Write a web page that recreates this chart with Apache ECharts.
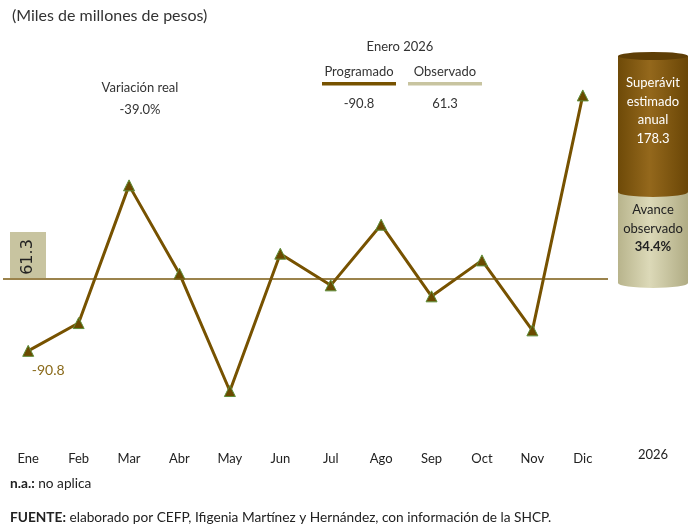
<!DOCTYPE html>
<html>
<head>
<meta charset="utf-8">
<script src="https://cdn.jsdelivr.net/npm/echarts@6/dist/echarts.min.js"></script>
<style>html,body{margin:0;padding:0;background:#fff}#c{width:690px;height:529px}</style>
</head>
<body>
<div id="c"></div>
<script>
const months = ['Ene','Feb','Mar','Abr','May','Jun','Jul','Ago','Sep','Oct','Nov','Dic'];
const programado = [-90.8, -31.9, 259.8, 72.7, -175.9, 115.1, 48.0, 176.5, 24.7, 100.9, -47.4, 450.4];
const observadoEne = 61.3;
const programadoEne = -90.8;
const variacionReal = '-39.0%';
const superavitAnual = 178.3;
const avanceObservado = '34.4%';
const yearLabel = '2026';

const FONT = 'Lato';
const BROWN = '#775200';
const BEIGE = '#c8c4a0';

const chart = echarts.init(document.getElementById('c'), null, {renderer:'canvas'});

const seriesData = programado.map((v,i) => i === 0 ? {
  value: v,
  label: {show:true, position:'bottom', offset:[20,2], formatter: String(v), color:'#8a6a1a', fontSize:14, fontFamily:FONT}
} : v);

const cx = 653, cw = 70, rx = cw/2;
const topY = 56, midY = 192, botY = 283;

const lightGrad = () => new echarts.graphic.LinearGradient(0,0,1,0,[{offset:0,color:'#b8b48c'},{offset:0.45,color:'#dcd9b8'},{offset:1,color:'#b0ac84'}]);
const darkGrad = () => new echarts.graphic.LinearGradient(0,0,1,0,[{offset:0,color:'#6e4a08'},{offset:0.45,color:'#94681c'},{offset:1,color:'#6a4606'}]);

chart.setOption({
  animation:false,
  grid:{left:3, width:605, top:72, height:354},
  xAxis:{
    type:'category', data:months, boundaryGap:true,
    axisLine:{show:false}, axisTick:{show:false},
    axisLabel:{margin:26, color:'#222', fontSize:13, fontFamily:FONT}
  },
  yAxis:{type:'value', min:-250, max:500, show:false, splitLine:{show:false}},
  series:[{
    type:'line', data:seriesData,
    lineStyle:{color:BROWN, width:3},
    itemStyle:{color:'#6b4a00', borderColor:'#5f8f3a', borderWidth:1},
    symbol:'triangle', symbolSize:11,
    markLine:{
      silent:true, symbol:'none',
      lineStyle:{color:'#7a5a10', width:1.5, type:'solid'},
      label:{show:false},
      data:[{yAxis:observadoEne}]
    },
    z:3
  }],
  graphic:[
    {type:'text', left:12, top:8, style:{text:'(Miles de millones de pesos)', fontSize:16, fontFamily:FONT, fill:'#333'}},
    {type:'text', x:140, y:88, style:{text:'Variación real', fontSize:13, fontFamily:FONT, fill:'#333', align:'center', verticalAlign:'middle'}},
    {type:'text', x:140, y:110, style:{text:variacionReal, fontSize:13, fontFamily:FONT, fill:'#333', align:'center', verticalAlign:'middle'}},
    {type:'text', x:400, y:47, style:{text:'Enero ' + yearLabel, fontSize:13, fontFamily:FONT, fill:'#333', align:'center', verticalAlign:'middle'}},
    {type:'text', x:359, y:72, style:{text:'Programado', fontSize:13, fontFamily:FONT, fill:'#333', align:'center', verticalAlign:'middle'}},
    {type:'text', x:445, y:72, style:{text:'Observado', fontSize:13, fontFamily:FONT, fill:'#333', align:'center', verticalAlign:'middle'}},
    {type:'rect', shape:{x:322, y:82, width:74, height:3.5}, style:{fill:BROWN}},
    {type:'rect', shape:{x:408, y:82, width:74, height:3.5}, style:{fill:BEIGE}},
    {type:'text', x:359, y:104, style:{text:String(programadoEne), fontSize:13, fontFamily:FONT, fill:'#333', align:'center', verticalAlign:'middle'}},
    {type:'text', x:445, y:104, style:{text:String(observadoEne), fontSize:13, fontFamily:FONT, fill:'#333', align:'center', verticalAlign:'middle'}},
    // 61.3 box
    {type:'rect', shape:{x:10, y:232, width:36, height:46}, style:{fill:BEIGE}, z:1},
    {type:'text', x:28, y:257, rotation:Math.PI/2, style:{text:String(observadoEne), fontSize:16, fontFamily:'DejaVu Sans', fill:'#222', align:'center', verticalAlign:'middle'}, z:2},
    // cylinder
    {type:'rect', shape:{x:cx-rx, y:midY, width:cw, height:botY-midY}, style:{fill:lightGrad()}},
    {type:'circle', x:cx, y:botY, scaleY:5/rx, shape:{cx:0, cy:0, r:rx}, style:{fill:lightGrad()}},
    {type:'rect', shape:{x:cx-rx, y:topY, width:cw, height:midY-topY}, style:{fill:darkGrad()}},
    {type:'circle', x:cx, y:midY, scaleY:5/rx, shape:{cx:0, cy:0, r:rx}, style:{fill:darkGrad()}},
    {type:'circle', x:cx, y:topY, scaleY:4/rx, shape:{cx:0, cy:0, r:rx}, style:{fill:'#5e3e06'}},
    {type:'text', x:cx, y:83, style:{text:'Superávit', fontSize:13, fontFamily:FONT, fill:'#fff', align:'center', verticalAlign:'middle'}},
    {type:'text', x:cx, y:102, style:{text:'estimado', fontSize:13, fontFamily:FONT, fill:'#fff', align:'center', verticalAlign:'middle'}},
    {type:'text', x:cx, y:120, style:{text:'anual', fontSize:13, fontFamily:FONT, fill:'#fff', align:'center', verticalAlign:'middle'}},
    {type:'text', x:cx, y:139, style:{text:String(superavitAnual), fontSize:13, fontFamily:FONT, fill:'#fff', align:'center', verticalAlign:'middle'}},
    {type:'text', x:cx, y:210, style:{text:'Avance', fontSize:13, fontFamily:FONT, fill:'#222', align:'center', verticalAlign:'middle'}},
    {type:'text', x:cx, y:229, style:{text:'observado', fontSize:13, fontFamily:FONT, fill:'#222', align:'center', verticalAlign:'middle'}},
    {type:'text', x:cx, y:247, style:{text:avanceObservado, fontSize:13, fontWeight:'bold', fontFamily:FONT, fill:'#222', align:'center', verticalAlign:'middle'}},
    {type:'text', x:cx, y:455, style:{text:yearLabel, fontSize:13, fontFamily:FONT, fill:'#222', align:'center', verticalAlign:'middle'}},
    // footnotes
    {type:'text', left:10, top:477, style:{text:'{b|n.a.:} no aplica', fontSize:13.7, fontFamily:FONT, fill:'#222',
      rich:{b:{fontWeight:'bold', fontSize:13.7, fontFamily:FONT, fill:'#222'}}}},
    {type:'text', left:10, top:511, style:{text:'{b|FUENTE:} elaborado por CEFP, Ifigenia Martínez y Hernández, con información de la SHCP.', fontSize:13.7, fontFamily:FONT, fill:'#222',
      rich:{b:{fontWeight:'bold', fontSize:13.7, fontFamily:FONT, fill:'#222'}}}}
  ]
});
</script>
</body>
</html>
